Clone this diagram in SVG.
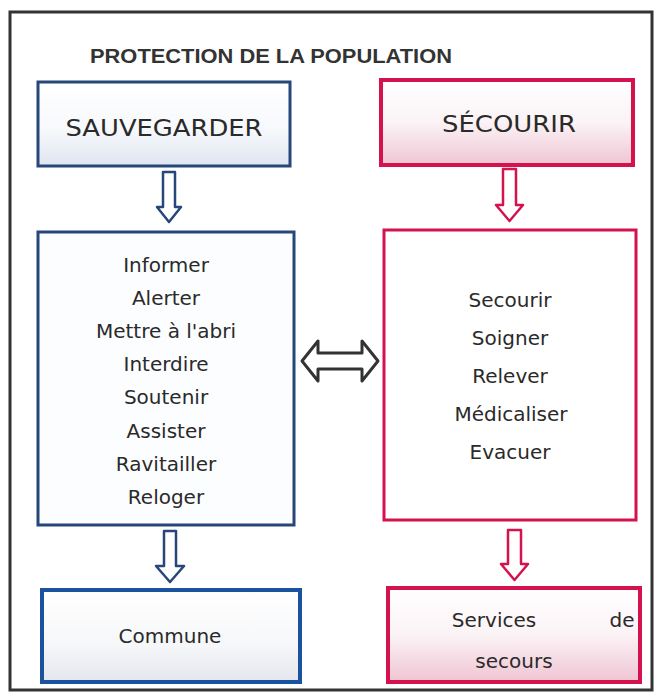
<svg xmlns="http://www.w3.org/2000/svg" width="662" height="698" viewBox="0 0 662 698">
<defs>
<linearGradient id="gBlue" x1="0" y1="0" x2="0" y2="1"><stop offset="0" stop-color="#ffffff"/><stop offset="0.55" stop-color="#f7f9fc"/><stop offset="1" stop-color="#dfe6f0"/></linearGradient>
<linearGradient id="gPink" x1="0" y1="0" x2="0" y2="1"><stop offset="0" stop-color="#ffffff"/><stop offset="0.5" stop-color="#fbf3f6"/><stop offset="1" stop-color="#efc4d3"/></linearGradient>
<linearGradient id="gGrey" x1="0" y1="0" x2="0" y2="1"><stop offset="0" stop-color="#ffffff"/><stop offset="0.6" stop-color="#f6f7f9"/><stop offset="1" stop-color="#e3e6ec"/></linearGradient>
<style>
.t{font-family:"DejaVu Sans",Verdana,sans-serif;fill:#2a2a2a;text-anchor:middle}
.big{font-size:23px}
.it{font-size:20px}
.blue{stroke:#27467a;stroke-width:3}
.blue2{stroke:#1a52a0;stroke-width:4}
.red{stroke:#d4124e;stroke-width:4}
.red3{stroke:#d4124e;stroke-width:3}
.arB{fill:#fff;stroke:#27467a;stroke-width:2.5;stroke-linejoin:round}
.arR{fill:#fff;stroke:#d4124e;stroke-width:2.5;stroke-linejoin:round}
</style>
</defs>
<rect x="0" y="0" width="662" height="698" fill="#ffffff"/>
<rect id="frame" x="10" y="12" width="642" height="678" fill="none" stroke="#333" stroke-width="3"/>
<text id="title" x="90" y="63" textLength="362" lengthAdjust="spacingAndGlyphs" style="font-family:'Liberation Sans',Arial,sans-serif;font-size:21px;font-weight:bold;fill:#333">PROTECTION DE LA POPULATION</text>

<g id="sauvegarder"><rect x="38" y="82" width="252" height="84" fill="url(#gBlue)" class="blue"/><text class="t big" x="164" y="136" textLength="197" lengthAdjust="spacingAndGlyphs">SAUVEGARDER</text></g>
<g id="secourir"><rect x="381" y="80" width="252" height="85" fill="url(#gPink)" class="red"/><text class="t big" x="509" y="132" textLength="134" lengthAdjust="spacingAndGlyphs">SÉCOURIR</text></g>

<g id="actions-sauvegarder"><rect x="38" y="232" width="256" height="293" fill="#fcfdff" class="blue"/>
<text class="t it" x="166" y="272">Informer</text>
<text class="t it" x="166" y="305">Alerter</text>
<text class="t it" x="166" y="338">Mettre à l'abri</text>
<text class="t it" x="166" y="371">Interdire</text>
<text class="t it" x="166" y="404">Soutenir</text>
<text class="t it" x="166" y="438">Assister</text>
<text class="t it" x="166" y="471">Ravitailler</text>
<text class="t it" x="166" y="504">Reloger</text>
</g>
<g id="actions-secourir"><rect x="384" y="230" width="252" height="290" fill="#ffffff" class="red3"/>
<text class="t it" x="510" y="307">Secourir</text>
<text class="t it" x="510" y="345">Soigner</text>
<text class="t it" x="510" y="383">Relever</text>
<text class="t it" x="511" y="421">Médicaliser</text>
<text class="t it" x="510" y="459">Evacuer</text>
</g>

<g id="commune"><rect x="42" y="590" width="258" height="92" fill="url(#gGrey)" class="blue2"/><text class="t it" x="170" y="643">Commune</text></g>
<g id="services"><rect x="388" y="588" width="252" height="94" fill="url(#gPink)" class="red"/>
<text class="t it" x="494" y="627">Services</text><text class="t it" x="622" y="627">de</text>
<text class="t it" x="514" y="668">secours</text></g>

<g id="connectors">
<path class="arB" d="M163,172 H175 V207 H181 L169,222 L157,207 H163 Z"/>
<path class="arR" d="M503,169 H516 V205 H523 L509.5,221 L496,205 H503 Z"/>
<path class="arB" d="M164,531 H176 V566 H184 L170,582 L156,566 H164 Z"/>
<path class="arR" d="M508,530 H521 V564 H528 L514.5,580 L501,564 H508 Z"/>
<path d="M302,361 L318,341 V353 H362 V341 L378,361 L362,381 V369 H318 V381 Z" fill="#fff" stroke="#333" stroke-width="3" stroke-linejoin="round"/>
</g>
</svg>
